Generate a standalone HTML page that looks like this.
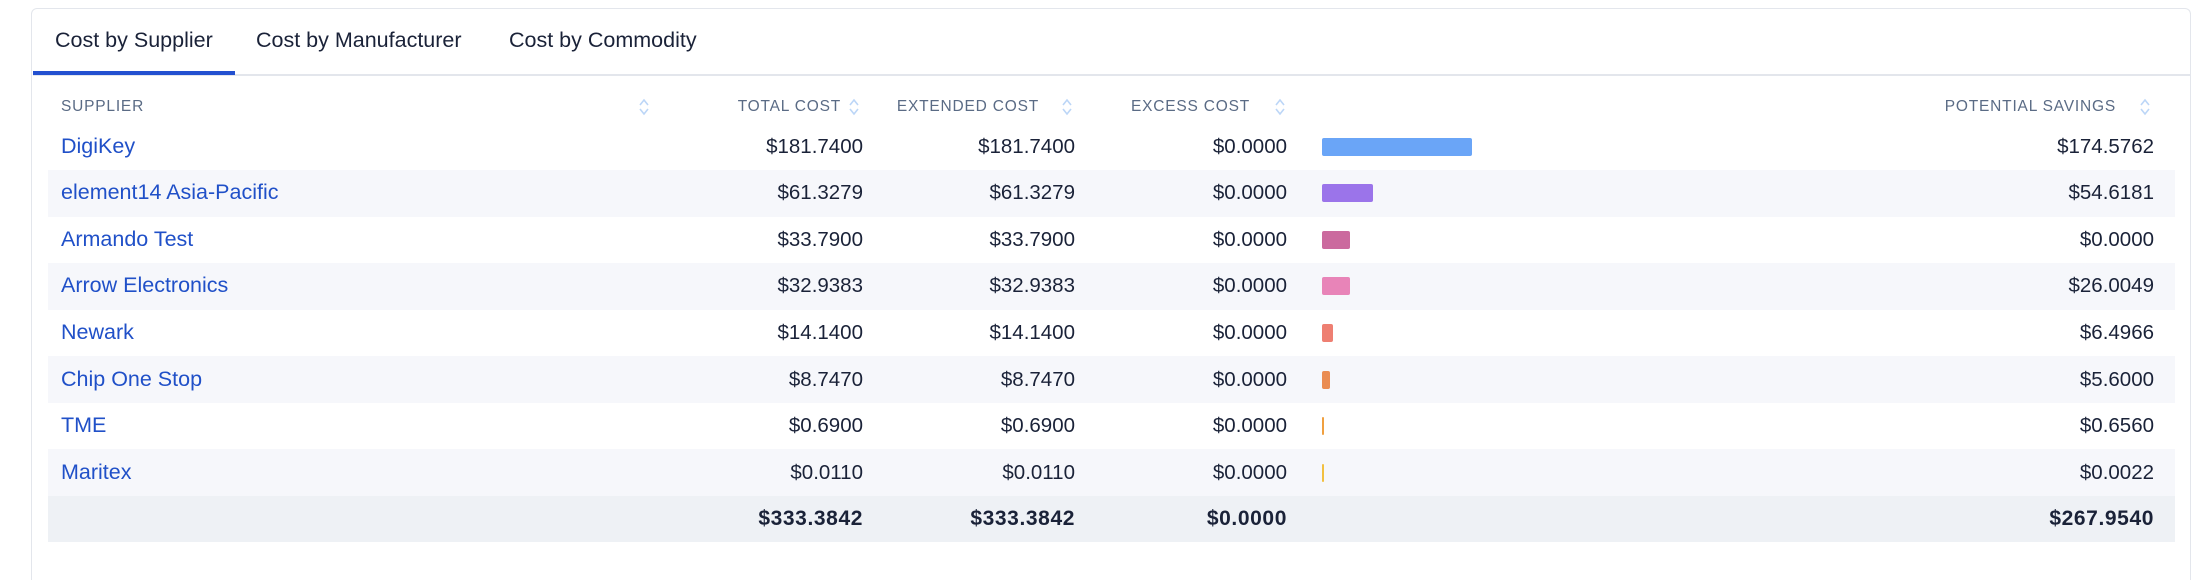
<!DOCTYPE html>
<html style="width:2210px;height:580px;overflow:hidden"><head><meta charset="utf-8"><style>
*{margin:0;padding:0;box-sizing:border-box}
body{width:2210px;height:580px;background:#fff;font-family:"Liberation Sans",sans-serif;position:relative;overflow:hidden}
.card{position:absolute;left:31px;top:8px;width:2160px;height:572px;border:1.5px solid #e3e6ec;border-bottom:none;border-radius:6px 6px 0 0}
.t{position:absolute;white-space:nowrap}
.tab{font-size:21.5px;color:#1a2238;top:28px}
.h{font-size:15.5px;color:#5a6b85;letter-spacing:0.8px;top:98px}
.r{text-align:right}
.s{position:absolute;width:12px;height:20px;top:97px}
.row{position:absolute;left:48px;width:2127px;height:46.6px}
.nm{font-size:21.5px;color:#2050c8;left:61px}
.v{font-size:20.5px;color:#1a2238}
.b{font-weight:bold;font-size:21px;letter-spacing:0.6px}
.bar{position:absolute;left:1322px;height:18px;border-radius:2px}
</style></head><body>
<div class="card"></div>
<div class="t tab" style="left:55px">Cost by Supplier</div>
<div class="t tab" style="left:256px">Cost by Manufacturer</div>
<div class="t tab" style="left:509px">Cost by Commodity</div>
<div style="position:absolute;left:33px;top:74px;width:2157px;height:1.5px;background:#e3e6ec"></div>
<div style="position:absolute;left:33px;top:71px;width:202px;height:4px;background:#2350d0"></div>

<div class="t h" style="left:61px">SUPPLIER</div>
<div class="t h r" style="right:1369px">TOTAL COST</div>
<div class="t h r" style="right:1171px">EXTENDED COST</div>
<div class="t h r" style="right:960px">EXCESS COST</div>
<div class="t h r" style="right:94px">POTENTIAL SAVINGS</div>
<svg class="s" style="left:638px" viewBox="0 0 12 20"><path d="M2 8 L6 3 L10 8 M2 12 L6 17 L10 12" fill="none" stroke="#bcd6f7" stroke-width="1.6"/></svg>
<svg class="s" style="left:848px" viewBox="0 0 12 20"><path d="M2 8 L6 3 L10 8 M2 12 L6 17 L10 12" fill="none" stroke="#bcd6f7" stroke-width="1.6"/></svg>
<svg class="s" style="left:1061px" viewBox="0 0 12 20"><path d="M2 8 L6 3 L10 8 M2 12 L6 17 L10 12" fill="none" stroke="#bcd6f7" stroke-width="1.6"/></svg>
<svg class="s" style="left:1274px" viewBox="0 0 12 20"><path d="M2 8 L6 3 L10 8 M2 12 L6 17 L10 12" fill="none" stroke="#bcd6f7" stroke-width="1.6"/></svg>
<svg class="s" style="left:2139px" viewBox="0 0 12 20"><path d="M2 8 L6 3 L10 8 M2 12 L6 17 L10 12" fill="none" stroke="#bcd6f7" stroke-width="1.6"/></svg>

<div class="row" style="top:170px;background:#f6f7fb"></div>
<div class="row" style="top:263px;background:#f6f7fb"></div>
<div class="row" style="top:356px;background:#f6f7fb"></div>
<div class="row" style="top:449px;background:#f6f7fb"></div>
<div class="row" style="top:496px;height:46px;background:#eef1f5"></div>

<div id="rows"></div>
<script>
var d=[["DigiKey","$181.7400","$0.0000","$174.5762",150,"#6aa5f7"],
["element14 Asia-Pacific","$61.3279","$0.0000","$54.6181",51,"#9b74ea"],
["Armando Test","$33.7900","$0.0000","$0.0000",28,"#cb6a9e"],
["Arrow Electronics","$32.9383","$0.0000","$26.0049",28,"#e884b8"],
["Newark","$14.1400","$0.0000","$6.4966",11,"#ee7f72"],
["Chip One Stop","$8.7470","$0.0000","$5.6000",8,"#ea8c52"],
["TME","$0.6900","$0.0000","$0.6560",2,"#f0a040"],
["Maritex","$0.0110","$0.0000","$0.0022",1.5,"#f2c040"]];
var h="";
d.forEach(function(r,i){var c=146.6+46.6*i;var ty=c-12;
h+='<div class="t nm" style="top:'+(ty-1)+'px">'+r[0]+'</div>';
h+='<div class="t v r" style="right:1347px;top:'+ty+'px">'+r[1]+'</div>';
h+='<div class="t v r" style="right:1135px;top:'+ty+'px">'+r[1]+'</div>';
h+='<div class="t v r" style="right:923px;top:'+ty+'px">'+r[2]+'</div>';
h+='<div class="t v r" style="right:56px;top:'+ty+'px">'+r[3]+'</div>';
h+='<div class="bar" style="top:'+(c-9)+'px;width:'+r[4]+'px;background:'+r[5]+'"></div>';});
var ty=519-12;
h+='<div class="t v r b" style="right:1347px;top:'+ty+'px">$333.3842</div>';
h+='<div class="t v r b" style="right:1135px;top:'+ty+'px">$333.3842</div>';
h+='<div class="t v r b" style="right:923px;top:'+ty+'px">$0.0000</div>';
h+='<div class="t v r b" style="right:56px;top:'+ty+'px">$267.9540</div>';
document.getElementById("rows").innerHTML=h;
</script>
</body></html>
